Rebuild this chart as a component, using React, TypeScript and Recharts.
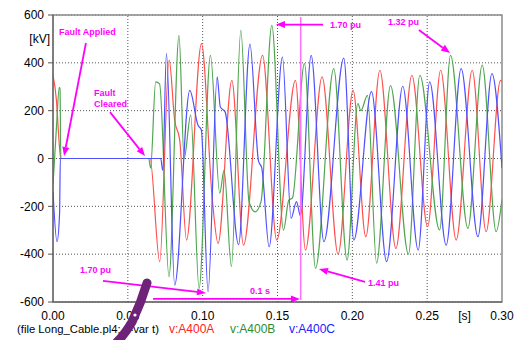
import React from 'react'
import {
  LineChart,
  Line,
  XAxis,
  YAxis,
  CartesianGrid,
  ReferenceLine,
  ReferenceArea,
  ReferenceDot,
} from 'recharts'

const FONT = '"Liberation Sans", Arial, sans-serif'
const MAGENTA = '#ff00ff'

// [t (s), v (kV)] turning points
const phaseA: [number, number][] = [
  [0, 348], [0.0023, 243], [0.004, 76], [0.0052, 0], [0.0648, 0],
  [0.0713, -431], [0.0776, 411], [0.0813, 160], [0.0847, 76], [0.0892, -341],
  [0.0992, 480], [0.1065, -175], [0.1103, -355], [0.1195, 327], [0.1273, -362],
  [0.14, 431], [0.1495, -341], [0.162, 327], [0.1687, -383], [0.1798, 341],
  [0.1905, -400], [0.2005, 285], [0.209, -327], [0.2184, 369], [0.2291, -376],
  [0.2398, 348], [0.2503, -285], [0.259, 369], [0.2694, -341], [0.2801, 369],
  [0.2894, -306], [0.299, 327], [0.3, 320],
]

const phaseB: [number, number][] = [
  [0, -110], [0.0023, 130], [0.0042, 297], [0.0047, 290], [0.0052, 0], [0.064, 0],
  [0.0652, -40], [0.0686, 320], [0.0712, 312], [0.0775, -494], [0.0842, 515],
  [0.0876, 0], [0.092, 181], [0.0976, -543], [0.1052, 431], [0.1114, -145],
  [0.1143, -49], [0.1192, -452], [0.1255, 536], [0.131, -181], [0.135, -223],
  [0.139, -180], [0.1462, 557], [0.154, -300], [0.1575, -175], [0.16, -165],
  [0.168, 397], [0.1754, -459], [0.1876, 376], [0.1965, -425], [0.2037, 230],
  [0.2057, 200], [0.2101, 264], [0.2162, -438], [0.2255, 305], [0.2375, -400],
  [0.2451, 348], [0.2583, -299], [0.2656, 431], [0.2772, -292], [0.2868, 390],
  [0.2961, -306], [0.3, -170],
]

const phaseC: [number, number][] = [
  [0, -140], [0.0027, -348], [0.0044, -230], [0.0049, 0], [0.072, 0],
  [0.0733, -50], [0.0758, 440], [0.0813, -530], [0.0914, 285], [0.0969, 139],
  [0.0991, 120], [0.1036, -557], [0.1097, 341], [0.1118, 215], [0.115, 195],
  [0.124, -360], [0.1316, 478], [0.1373, -10], [0.1395, -40], [0.1444, -369],
  [0.1533, 424], [0.1591, -250], [0.1627, -180], [0.1653, -240], [0.1725, 431],
  [0.181, -348], [0.1943, 420], [0.201, -341], [0.2128, 280], [0.2229, -431],
  [0.2337, 302], [0.244, -383], [0.2517, 320], [0.2627, -362], [0.2727, 376],
  [0.2839, -327], [0.2933, 355], [0.3, -40],
]

const xTicks = [0, 0.05, 0.1, 0.15, 0.2, 0.25, 0.275, 0.3]
const xGrid = [0.05, 0.1, 0.15, 0.2, 0.25]
const yTicks = [-600, -400, -200, 0, 200, 400, 600]

const fileLabel = '(file Long_Cable.pl4; x-var t)'
const seriesNames = ['v:A400A', 'v:A400B', 'v:A400C']
const seriesColors = ['#ff5050', '#4fa64f', '#5050ff']
const legendColors = ['#ff2020', '#2e8b2e', '#2020ff']

// annotation arrows in data units: [t1, v1, t2, v2]
const arrows: [number, number, number, number][] = [
  [0.022, 483, 0.0074, 10],
  [0.0381, 194, 0.0615, 10],
  [0.1804, 560, 0.149, 560],
  [0.2445, 537, 0.2653, 441],
  [0.2085, -516, 0.1777, -462],
  [0.0334, -512, 0.1022, -562],
  [0.0668, -587, 0.165, -587],
]

const notes: { t: number; v: number; text: string }[] = [
  { t: 0.004, v: 515, text: 'Fault Applied' },
  { t: 0.0274, v: 260, text: 'Fault' },
  { t: 0.0274, v: 214, text: 'Cleared' },
  { t: 0.1851, v: 545, text: '1.70 pu' },
  { t: 0.2238, v: 557, text: '1.32 pu' },
  { t: 0.2105, v: -534, text: '1.41 pu' },
  { t: 0.018, v: -480, text: '1.70 pu' },
  { t: 0.1316, v: -566, text: '0.1 s' },
]

const toRows = (pts: [number, number][]) => pts.map(([t, v]) => ({ t, v }))
const phases = [phaseA, phaseB, phaseC].map(toRows)

const ArrowShape = (props: any) => {
  const { x1, y1, x2, y2 } = props
  const ang = Math.atan2(y2 - y1, x2 - x1)
  const L = 9
  const W = 3.5
  const c = Math.cos(ang)
  const s = Math.sin(ang)
  const bx = x2 - L * c
  const by = y2 - L * s
  const pts = `${x2},${y2} ${bx - W * s},${by + W * c} ${bx + W * s},${by - W * c}`
  return (
    <g>
      <line x1={x1} y1={y1} x2={bx} y2={by} stroke={MAGENTA} strokeWidth={1.8} />
      <polygon points={pts} fill={MAGENTA} />
    </g>
  )
}

export default function App() {
  return (
    <div
      style={{
        position: 'absolute',
        left: 0,
        top: 0,
        width: 522,
        height: 340,
        background: '#fff',
        fontFamily: FONT,
      }}
    >
      <LineChart width={522} height={340} margin={{ top: 15, right: 20, left: 0, bottom: 13 }}>
        <ReferenceArea
          x1={0}
          x2={0.3}
          y1={-600}
          y2={600}
          fill='none'
          stroke='#8c8c8c'
          strokeWidth={1.5}
          fillOpacity={0}
        />
        <CartesianGrid vertical={false} stroke='#555' strokeDasharray='1 2' />
        {xGrid.map((t) => (
          <ReferenceLine key={t} x={t} stroke='#555' strokeDasharray='1 2' />
        ))}
        <XAxis
          dataKey='t'
          type='number'
          domain={[0, 0.3]}
          ticks={xTicks}
          tickFormatter={(v: number) => (v === 0.275 ? '[s]' : v.toFixed(2))}
          height={25}
          tickLine={false}
          tickSize={6}
          tickMargin={3}
          axisLine={{ stroke: '#555' }}
          tick={{ fontSize: 12, fill: '#000', fontFamily: FONT }}
          allowDataOverflow
        />
        <YAxis
          type='number'
          domain={[-600, 600]}
          ticks={yTicks}
          width={53}
          tickSize={5}
          tickMargin={4}
          axisLine={{ stroke: '#555' }}
          tickLine={{ stroke: '#555' }}
          tick={{ fontSize: 12, fill: '#000', fontFamily: FONT }}
          allowDataOverflow
        />
        {phases.map((rows, i) => (
          <Line
            key={seriesNames[i]}
            data={rows}
            dataKey='v'
            name={seriesNames[i]}
            type='monotone'
            stroke={seriesColors[i]}
            strokeWidth={1.2}
            dot={false}
            activeDot={false}
            isAnimationActive={false}
          />
        ))}
        <ReferenceLine
          segment={[
            { x: 0.1655, y: 592 },
            { x: 0.1655, y: -592 },
          ]}
          stroke='#ff70ff'
          strokeWidth={1.5}
        />
        {arrows.map(([t1, v1, t2, v2], i) => (
          <ReferenceLine
            key={'a' + i}
            segment={[
              { x: t1, y: v1 },
              { x: t2, y: v2 },
            ]}
            shape={ArrowShape}
          />
        ))}
        {notes.map((n, i) => (
          <ReferenceDot
            key={'n' + i}
            x={n.t}
            y={n.v}
            r={0}
            shape={(p: any) => (
              <text
                x={p.cx}
                y={p.cy}
                fill={MAGENTA}
                fontSize={9}
                fontWeight='bold'
                fontFamily={FONT}
              >
                {n.text}
              </text>
            )}
          />
        ))}
      </LineChart>
      <svg
        width={522}
        height={340}
        style={{ position: 'absolute', left: 0, top: 0, pointerEvents: 'none' }}
      >
        <text x={50} y={43} textAnchor='end' fontSize={12} fill='#000' fontFamily={FONT}>
          [kV]
        </text>
        <text x={17} y={333} fontSize={11.3} fill='#000' fontFamily={FONT}>
          {fileLabel}
        </text>
        {seriesNames.map((name, i) => (
          <text
            key={name}
            x={[169, 230, 289][i]}
            y={333}
            fontSize={12}
            fill={legendColors[i]}
            fontFamily={FONT}
          >
            {name}
          </text>
        ))}
        <path
          d='M147,283 Q141,303 132,322 Q125,334 117,342'
          stroke='#6e2379'
          strokeWidth={9}
          strokeLinecap='round'
          fill='none'
        />
        <circle cx={135} cy={315} r={1.6} fill='#fff' />
      </svg>
    </div>
  )
}
